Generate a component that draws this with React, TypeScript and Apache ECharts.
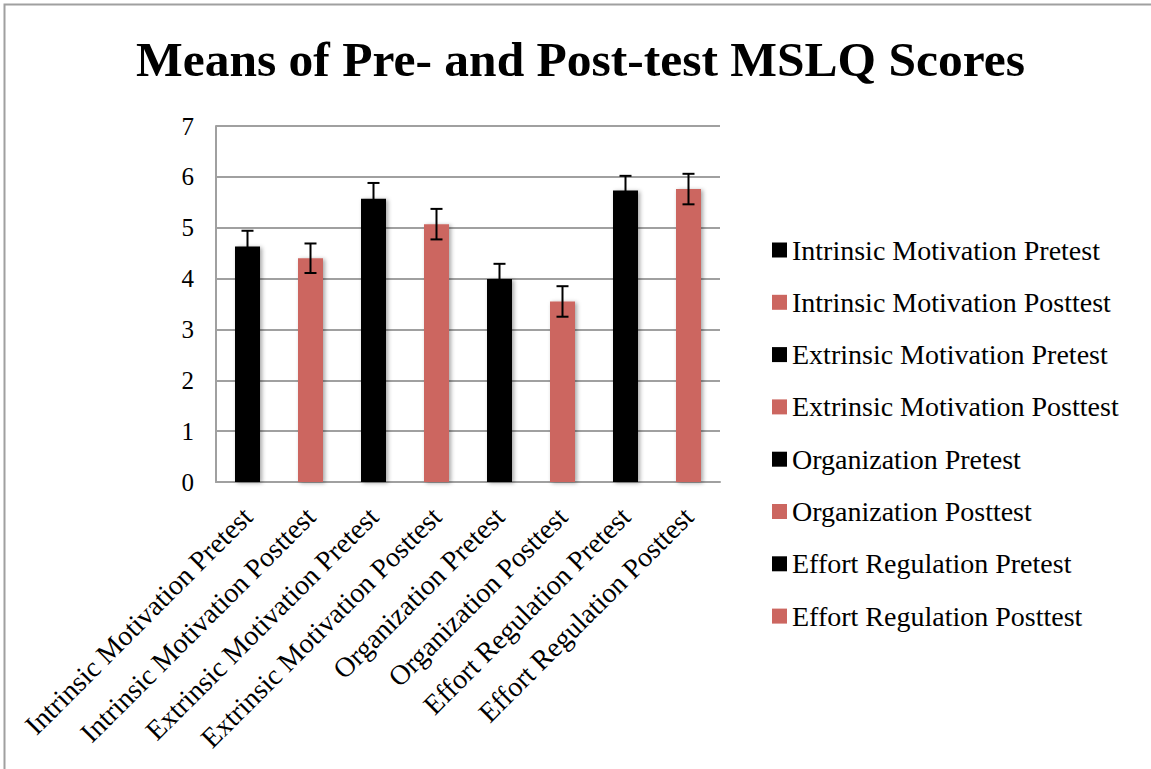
import React, { useEffect, useRef } from "react";
import * as echarts from "echarts";

const categories = [
  "Intrinsic Motivation Pretest",
  "Intrinsic Motivation Posttest",
  "Extrinsic Motivation Pretest",
  "Extrinsic Motivation Posttest",
  "Organization Pretest",
  "Organization Posttest",
  "Effort Regulation Pretest",
  "Effort Regulation Posttest",
];
const means = [4.63, 4.4, 5.57, 5.07, 3.99, 3.55, 5.73, 5.76];
const errors = [0.31, 0.29, 0.31, 0.3, 0.3, 0.3, 0.29, 0.3];
const colors = ["#000000", "#CC6660", "#000000", "#CC6660", "#000000", "#CC6660", "#000000", "#CC6660"];
const yTicks = [0, 1, 2, 3, 4, 5, 6, 7];

const FONT = "'Liberation Serif', serif";

export default function App() {
  const ref = useRef<HTMLDivElement>(null);
  useEffect(() => {
    if (!ref.current) return;
    const chart = echarts.init(ref.current, null, { renderer: "svg" });
    const barSeries = categories.map((name, i) => ({
      name,
      type: "bar",
      stack: "all",
      barWidth: 25,
      data: categories.map((_, j) => (j === i ? means[i] : "-")),
      itemStyle: {
        color: colors[i],
        shadowBlur: 4,
        shadowColor: "rgba(0,0,0,0.35)",
        shadowOffsetX: 2,
        shadowOffsetY: 1,
      },
    }));
    const errSeries = {
      type: "custom",
      name: "err",
      z: 10,
      data: categories.map((_, i) => [i, means[i], errors[i]]),
      encode: { x: 0, y: 1 },
      renderItem: (params: any, api: any) => {
        const x = api.value(0);
        const m = api.value(1);
        const e = api.value(2);
        const top = api.coord([x, m + e]);
        const bot = api.coord([x, m - e]);
        const hw = 6;
        const style = { stroke: "#000", lineWidth: 2 };
        return {
          type: "group",
          children: [
            { type: "line", shape: { x1: top[0], y1: top[1], x2: bot[0], y2: bot[1] }, style },
            { type: "line", shape: { x1: top[0] - hw, y1: top[1], x2: top[0] + hw, y2: top[1] }, style },
            { type: "line", shape: { x1: bot[0] - hw, y1: bot[1], x2: bot[0] + hw, y2: bot[1] }, style },
          ],
        };
      },
    };
    chart.setOption({
      animation: false,
      backgroundColor: "#fff",
      title: {
        text: "Means of Pre- and Post-test MSLQ Scores",
        left: 136,
        top: 34,
        padding: 0,
        textStyle: { fontFamily: FONT, fontWeight: "bold", fontSize: 49.5, color: "#000" },
      },
      graphic: [
        {
          type: "rect",
          shape: { x: 4.5, y: 4.5, width: 1200, height: 800 },
          style: { fill: "none", stroke: "#a0a0a0", lineWidth: 2 },
          silent: true,
        },
      ],
      legend: {
        data: categories,
        orient: "vertical",
        left: 772,
        top: 236,
        padding: 0,
        itemWidth: 15,
        itemHeight: 15,
        itemGap: 24.3,
        icon: "rect",
        textStyle: { fontFamily: FONT, fontSize: 28, color: "#000", lineHeight: 28 },
      },
      grid: { left: 216, top: 126, width: 504, height: 356, containLabel: false },
      xAxis: {
        type: "category",
        data: categories,
        axisLine: { show: true, lineStyle: { color: "#a0a0a0", width: 2 } },
        axisTick: { show: false },
        axisLabel: {
          interval: 0,
          rotate: 45,
          margin: 30,
          fontFamily: FONT,
          fontSize: 28,
          color: "#000",
        },
      },
      yAxis: {
        type: "value",
        min: 0,
        max: 7,
        interval: 1,
        axisLine: { show: true, lineStyle: { color: "#a0a0a0", width: 2 } },
        axisTick: { show: false },
        splitLine: { show: true, lineStyle: { color: "#a0a0a0", width: 2 } },
        axisLabel: {
          margin: 22,
          fontFamily: FONT,
          fontSize: 25,
          color: "#000",
          formatter: (v: number) => (yTicks.includes(v) ? String(v) : ""),
        },
      },
      series: [...barSeries, errSeries],
    });
    return () => chart.dispose();
  }, []);
  return <div ref={ref} style={{ position: "fixed", left: 0, top: 0, width: 1151, height: 769 }} />;
}
